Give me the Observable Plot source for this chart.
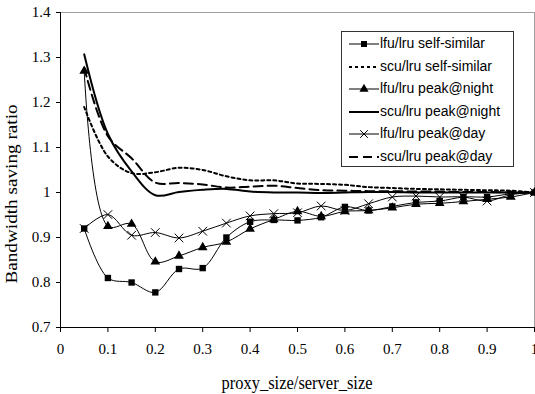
<!DOCTYPE html>
<html>
<head>
<meta charset="utf-8">
<script src="https://cdn.jsdelivr.net/npm/d3@7"></script>
<script src="https://cdn.jsdelivr.net/npm/@observablehq/plot@0.6"></script>
<style>
  html, body { margin: 0; padding: 0; background: #fff; }
  #wrap { position: relative; width: 535px; height: 394px; overflow: hidden; }
  .ytitle { position: absolute; left: 12px; top: 194px; transform: translate(-50%, -50%) rotate(-90deg) scaleX(1.2);
            font-family: "Liberation Serif", serif; font-size: 16px; white-space: nowrap; color: #000; }
  .xtitle { position: absolute; left: 297px; top: 383px; transform: translate(-50%, -50%) scaleY(1.15);
            font-family: "Liberation Serif", serif; font-size: 16.5px; white-space: nowrap; color: #000; }
  .legend { position: absolute; left: 341px; top: 31px; width: 173px; height: 136px; border: 1px solid #333; background: #fff; box-sizing: border-box; }
  .legend .row { position: absolute; left: 0; height: 16px; }
  .legend svg { position: absolute; left: 6px; top: 0; }
  .legend span { position: absolute; left: 38px; top: -1px; font-family: "Liberation Sans", Arial, sans-serif; font-size: 14px; white-space: nowrap; color: #000; }
</style>
</head>
<body>
<div id="wrap"></div>
<script>
// ---- data ----
const xs = [0.05, 0.1, 0.15, 0.2, 0.25, 0.3, 0.35, 0.4, 0.45, 0.5, 0.55, 0.6, 0.65, 0.7, 0.75, 0.8, 0.85, 0.9, 0.95, 1.0];
const lfuSelf  = [0.92, 0.81, 0.80, 0.778, 0.83, 0.832, 0.90, 0.935, 0.939, 0.938, 0.945, 0.968, 0.96, 0.969, 0.978, 0.981, 0.99, 0.99, 0.997, 1.0];
const scuSelf  = [1.19, 1.08, 1.043, 1.045, 1.055, 1.05, 1.036, 1.027, 1.027, 1.02, 1.019, 1.017, 1.012, 1.01, 1.008, 1.007, 1.006, 1.005, 1.004, 1.0];
const lfuNight = [1.27, 0.925, 0.93, 0.846, 0.859, 0.878, 0.89, 0.919, 0.94, 0.958, 0.947, 0.958, 0.96, 0.966, 0.974, 0.976, 0.98, 0.985, 0.99, 1.0];
const scuNight = [1.307, 1.13, 1.047, 0.994, 1.001, 1.006, 1.008, 1.002, 1.0, 1.0, 0.999, 1.0, 1.001, 1.001, 1.0, 1.0, 1.0, 1.0, 1.0, 1.0];
const lfuDay   = [0.92, 0.951, 0.905, 0.911, 0.899, 0.914, 0.932, 0.948, 0.953, 0.955, 0.97, 0.96, 0.975, 0.99, 0.992, 0.99, 0.99, 0.981, 0.995, 1.0];
const scuDay   = [1.277, 1.125, 1.076, 1.022, 1.021, 1.018, 1.011, 1.013, 1.015, 1.01, 1.005, 1.004, 1.003, 1.003, 1.002, 1.002, 1.001, 1.001, 1.0, 1.0];
const seriesNames = ["lfu/lru self-similar", "scu/lru self-similar", "lfu/lru peak@night", "scu/lru peak@night", "lfu/lru peak@day", "scu/lru peak@day"];
const xTicks = [0, 0.1, 0.2, 0.3, 0.4, 0.5, 0.6, 0.7, 0.8, 0.9, 1];
const xTickLabels = ["0", "0.1", "0.2", "0.3", "0.4", "0.5", "0.6", "0.7", "0.8", "0.9", "1"];
const yTicks = [0.7, 0.8, 0.9, 1.0, 1.1, 1.2, 1.3, 1.4];
const yTickLabels = ["0.7", "0.8", "0.9", "1", "1.1", "1.2", "1.3", "1.4"];
const xTitle = "proxy_size/server_size";
const yTitle = "Bandwidth saving ratio";

// ---- build ----
const toRows = vals => xs.map((x, i) => ({x, y: vals[i]}));
const styles = [
  {vals: lfuSelf,  stroke: 1, dash: null,  symbol: "square"},
  {vals: scuSelf,  stroke: 2, dash: "3,3", symbol: null},
  {vals: lfuNight, stroke: 1, dash: null,  symbol: "triangle"},
  {vals: scuNight, stroke: 2, dash: null,  symbol: null},
  {vals: lfuDay,   stroke: 1, dash: null,  symbol: "times"},
  {vals: scuDay,   stroke: 2, dash: "9,5", symbol: null}
];

const marks = [
  Plot.ruleY([1.4], {stroke: "#a0a0a0"}),
  Plot.ruleX([1], {stroke: "#a0a0a0"})
];
styles.forEach(s => {
  const rows = toRows(s.vals);
  marks.push(Plot.line(rows, {x: "x", y: "y", stroke: "black", strokeWidth: s.stroke, strokeDasharray: s.dash, curve: "catmull-rom"}));
});
styles.forEach(s => {
  if (!s.symbol) return;
  const rows = toRows(s.vals);
  if (s.symbol === "times") {
    marks.push(Plot.dot(rows, {x: "x", y: "y", symbol: "times", r: 4, stroke: "black", strokeWidth: 1}));
  } else {
    marks.push(Plot.dot(rows, {x: "x", y: "y", symbol: s.symbol, r: 3.6, fill: "black", stroke: "none"}));
  }
});
marks.push(
  Plot.ruleX([0], {stroke: "black"}),
  Plot.ruleY([0.7], {stroke: "black"}),
  Plot.axisX({ticks: xTicks, tickFormat: d => xTickLabels[xTicks.indexOf(d)], tickSize: 5, tickPadding: 11, label: null}),
  Plot.axisY({ticks: yTicks, tickFormat: d => yTickLabels[yTicks.findIndex(t => Math.abs(t - d) < 1e-9)], tickSize: 4, tickPadding: 6, label: null})
);

const chart = Plot.plot({
  width: 535, height: 394,
  marginLeft: 60, marginRight: 1, marginTop: 12, marginBottom: 67,
  x: {domain: [0, 1]},
  y: {domain: [0.7, 1.4]},
  style: {fontFamily: "'Liberation Serif', serif", fontSize: "15px", background: "white", color: "black"},
  marks
});
const wrap = document.getElementById("wrap");
wrap.appendChild(chart);

// titles
const yt = document.createElement("div"); yt.className = "ytitle"; yt.textContent = yTitle; wrap.appendChild(yt);
const xt = document.createElement("div"); xt.className = "xtitle"; xt.textContent = xTitle; wrap.appendChild(xt);

// legend
const legend = document.createElement("div"); legend.className = "legend"; wrap.appendChild(legend);
const symPath = {
  square: d3.symbol(d3.symbolSquare, 36)(),
  triangle: d3.symbol(d3.symbolTriangle, 36)(),
  times: d3.symbol(d3.symbolTimes, 40)()
};
styles.forEach((s, i) => {
  const row = document.createElement("div"); row.className = "row"; row.style.top = (4 + i * 22.6) + "px";
  const svg = d3.create("svg").attr("width", 32).attr("height", 16);
  svg.append("line").attr("x1", 1).attr("x2", 31).attr("y1", 8).attr("y2", 8)
     .attr("stroke", "black").attr("stroke-width", s.stroke).attr("stroke-dasharray", s.dash);
  if (s.symbol === "times") svg.append("path").attr("d", symPath.times).attr("transform", "translate(16,8)").attr("stroke", "black").attr("fill", "none");
  else if (s.symbol) svg.append("path").attr("d", symPath[s.symbol]).attr("transform", "translate(16,8)").attr("fill", "black");
  row.appendChild(svg.node());
  const t = document.createElement("span"); t.textContent = seriesNames[i]; row.appendChild(t);
  legend.appendChild(row);
});
</script>
</body>
</html>
